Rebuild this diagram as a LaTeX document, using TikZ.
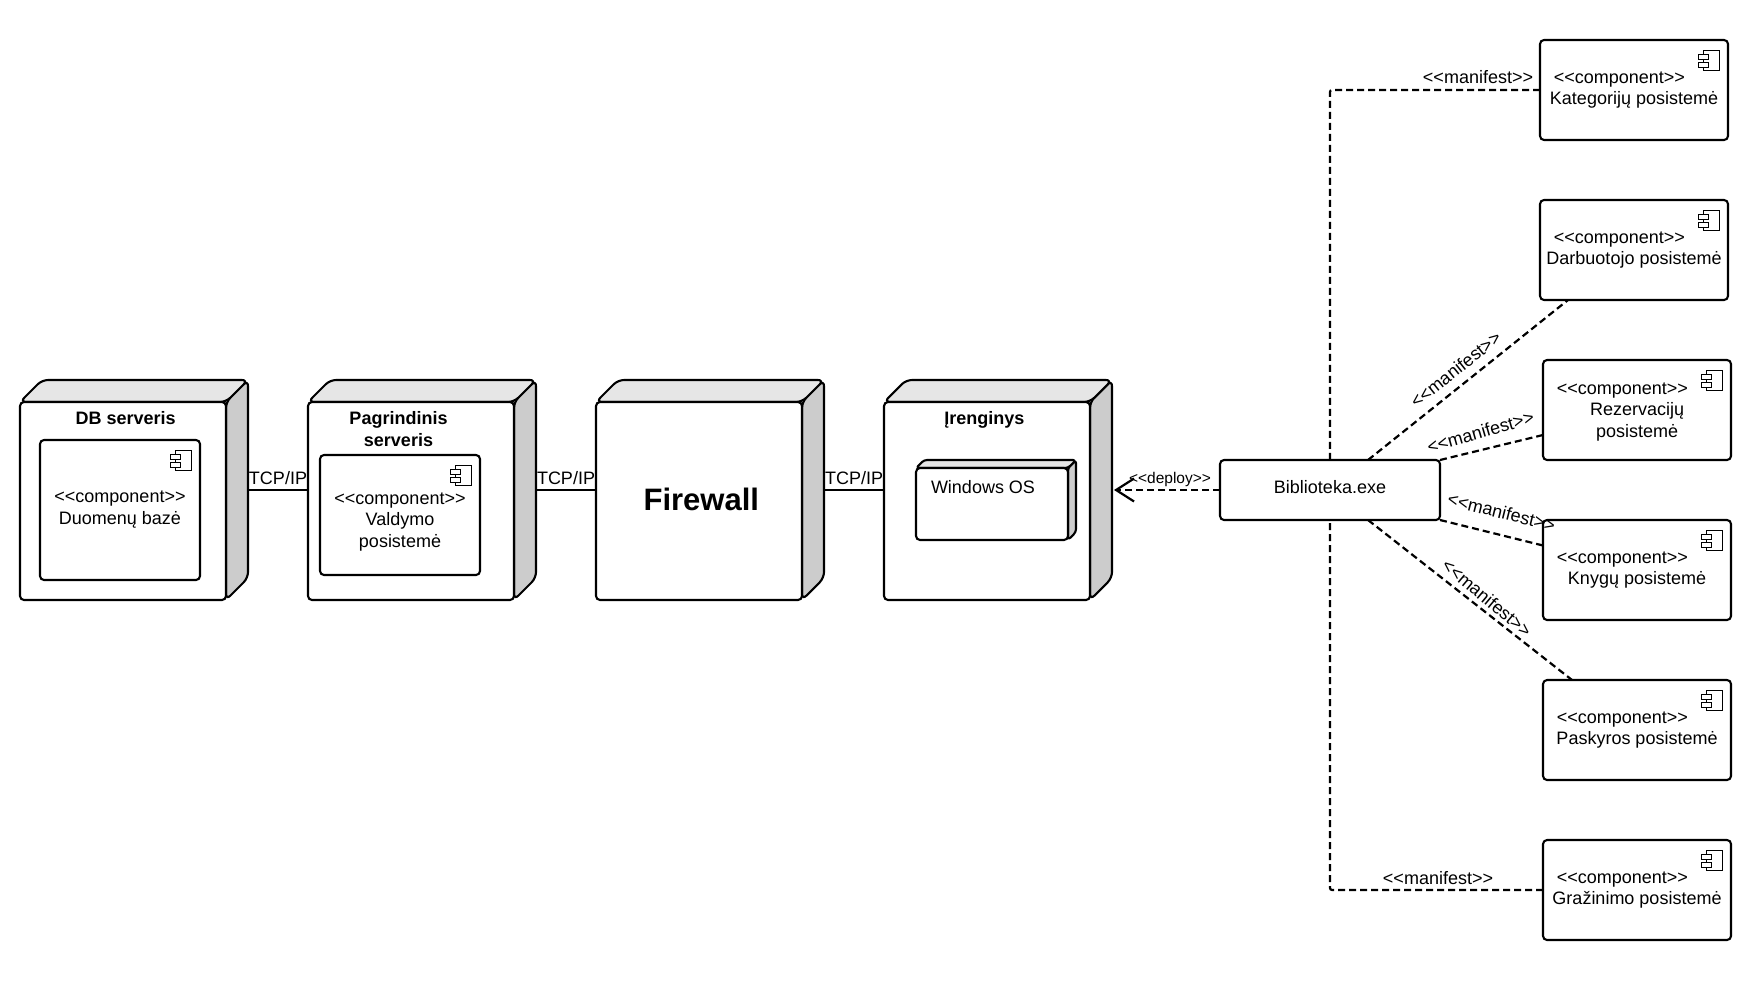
\documentclass[tikz,border=0pt]{standalone}
\usepackage{fontspec}
\usetikzlibrary{arrows.meta,calc}
\newfontfamily\diagfont{Liberation Sans}
\definecolor{topgray}{HTML}{E6E6E6}
\definecolor{sidegray}{HTML}{CCCCCC}
\tikzset{
	boxline/.style={line width=2.1pt,line join=round},
	txt/.style={font=\diagfont\fontsize{18}{21.5}\selectfont,align=center,inner sep=0pt},
	title/.style={txt,font=\diagfont\bfseries\fontsize{18}{21.5}\selectfont},
	compbox/.style={boxline,draw,fill=white,rounded corners=4pt,inner sep=0pt,outer sep=0pt},
	dep/.style={line width=2.2pt,dash pattern=on 7pt off 4pt,rounded corners=2pt},
	wire/.style={line width=2.2pt},
}
% name, left, top, front width, front height, depth, corner
\newcommand{\cube}[7]{
	\filldraw[boxline,fill=sidegray,rounded corners=#7] (#2+#4,#3+#6) -- (#2+#4+#6,#3) -- (#2+#4+#6,#3+#5) -- (#2+#4,#3+#5+#6) -- cycle;
	\filldraw[boxline,fill=topgray,rounded corners=#7] (#2,#3+#6) -- (#2+#6,#3) -- (#2+#4+#6,#3) -- (#2+#4,#3+#6) -- cycle;
	\filldraw[boxline,fill=white,rounded corners=4pt] (#2,#3+#6) rectangle (#2+#4,#3+#6+#5);
	\node[inner sep=0pt,outer sep=0pt,anchor=north west,minimum width=#4+#6,minimum height=#5+#6] (#1) at (#2,#3) {};
}
% the small component sign, top right of a box
\newcommand{\compicon}[1]{
	\draw[line width=0.9pt,fill=white,shift={(#1.north east)}] (-25,10.5) rectangle (-9,30.5);
	\draw[line width=0.9pt,fill=white,shift={(#1.north east)}] (-30,14) rectangle (-20,19);
	\draw[line width=0.9pt,fill=white,shift={(#1.north east)}] (-30,22) rectangle (-20,27);
}
% [text shift], name, centre x, centre y, text
\newcommand{\comp}[5][0pt]{
	\node[compbox,minimum width=188,minimum height=100] (#2) at (#3,#4) {};
	\compicon{#2}
	\node[txt] (#2text) at ([yshift=#1]#2.center) {\mbox{<<component>>\hspace{29.2pt}}\\#5};
}
\begin{document}
\begin{tikzpicture}[x=1pt,y=-1pt]
	\useasboundingbox (0,0) rectangle (1760,984);
	% Draw devices
	\cube{dbserver}{20}{380}{206}{198}{22}{6pt}
	\cube{mainserver}{308}{380}{206}{198}{22}{6pt}
	\cube{firewall}{596}{380}{206}{198}{22}{6pt}
	\cube{device}{884}{380}{206}{198}{22}{6pt}
	\node[title] (dbtitle) at (125.7,418) {DB serveris};
	\node[title] (maintitle) at (398.5,429) {Pagrindinis\\serveris};
	\node[title] (devtitle) at (984.3,420.2) {Įrenginys};
	\node[txt,font=\diagfont\bfseries\fontsize{31}{36}\selectfont] (fwtitle) at (701.3,499) {Firewall};
	% Inner boxes
	\node[compbox,minimum width=160,minimum height=140] (database) at (120,510) {};
	\compicon{database}
	\node[txt] (databasetext) at (120,509.5) {<<component>>\\Duomenų bazė};
	\node[compbox,minimum width=160,minimum height=120] (control) at (400,515) {};
	\compicon{control}
	\node[txt] (controltext) at (400,522) {<<component>>\\Valdymo\\posistemė};
	\cube{winos}{916}{460}{152}{72}{8}{3pt}
	\node[txt] (wintext) at (983,487) {Windows OS};
	% Right column
	\comp{cat}{1634}{90}{Kategorijų posistemė}
	\comp{emp}{1634}{250}{Darbuotojo posistemė}
	\comp[-2pt]{res}{1637}{410}{Rezervacijų\\posistemė}
	\comp{book}{1637}{570}{Knygų posistemė}
	\comp{acc}{1637}{730}{Paskyros posistemė}
	\comp{ret}{1637}{890}{Gražinimo posistemė}
	\node[compbox,minimum width=220,minimum height=60] (exe) at (1330,490) {};
	\node[txt] (exetext) at (1330,487) {Biblioteka.exe};
	% Draw wires
	\draw[wire] (dbserver.east) -- node[txt,above=4pt] (tcpa) {TCP/IP} (mainserver.west);
	\draw[wire] (mainserver.east) -- node[txt,above=4pt] (tcpb) {TCP/IP} (firewall.west);
	\draw[wire] (firewall.east) -- node[txt,above=4pt] (tcpc) {TCP/IP} (device.west);
	\draw[dep,-{Straight Barb[length=18pt,width=23pt]}] (exe.west) -- node[txt,font=\diagfont\fontsize{15.5}{18}\selectfont,above=2.5pt,xshift=3pt] (deploy) {<<deploy>>} ([xshift=2pt]device.east);
	% Draw dashed lines
	\draw[dep] (cat.west) -| (exe.north);
	\draw[dep] (ret.west) -| (exe.south);
	\draw[dep] ([xshift=38pt]exe.north) -- ([xshift=-66pt]emp.south);
	\draw[dep] (exe.north east) -- ([yshift=-25pt]res.west);
	\draw[dep] (exe.south east) -- ([yshift=24.5pt]book.west);
	\draw[dep] ([xshift=38pt]exe.south) -- ([xshift=-65pt]acc.north);
	% Labels
	\node[txt] (mancat) at (1478,77.5) {<<manifest>>};
	\node[txt,rotate=38.5] (manemp) at (1455.6,369.3) {<<manifest>>};
	\node[txt,rotate=16] (manres) at (1480.5,432) {<<manifest>>};
	\node[txt,rotate=-14] (manbook) at (1501.5,512) {<<manifest>>};
	\node[txt,rotate=-40] (manacc) at (1487,598) {<<manifest>>};
	\node[txt] (manret) at (1438,877.7) {<<manifest>>};
\end{tikzpicture}
\end{document}
